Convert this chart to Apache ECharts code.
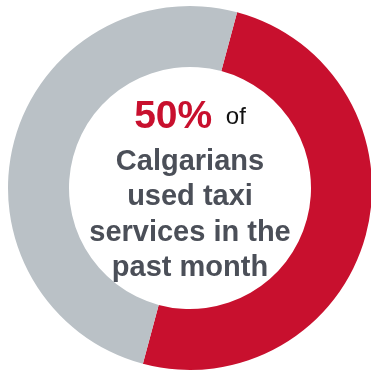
<!DOCTYPE html>
<html>
<head>
<meta charset="utf-8">
<script src="https://cdn.jsdelivr.net/npm/echarts@6/dist/echarts.min.js"></script>
<style>
  html, body { margin: 0; padding: 0; background: #ffffff; }
  #chart { width: 371px; height: 371px; }
</style>
</head>
<body>
<div id="chart"></div>
<script>
// Share of Calgarians who used taxi services in the past month
const categories = ['Used taxi services', 'Did not use taxi services'];
const values = [50, 50];
const colors = ['#C8102E', '#BAC1C6'];

const chart = echarts.init(document.getElementById('chart'), null, { renderer: 'canvas' });

const pieData = categories.map((name, i) => ({
  name: name,
  value: values[i],
  itemStyle: { color: colors[i] },
  label: { show: i === 0 }
}));

const FONT = 'Liberation Sans, Arial, sans-serif';

chart.setOption({
  animation: false,
  series: [{
    type: 'pie',
    center: [190, 188],
    radius: [121, 182],
    startAngle: 75,
    clockwise: true,
    silent: true,
    labelLine: { show: false },
    label: {
      position: 'center',
      fontFamily: FONT,
      formatter: (p) => '{a|' + p.value + '%}{b| of}\n' +
        '{c|Calgarians}\n{c|used taxi}\n{c|services in the}\n{c|past month}',
      rich: {
        a: { fontSize: 39, fontWeight: 'bold', color: '#C8102E', lineHeight: 54, fontFamily: FONT },
        b: { fontSize: 24, color: '#111111', lineHeight: 54, padding: [0, 0, 0, 7], fontFamily: FONT },
        c: { fontSize: 29, fontWeight: 'bold', color: '#4B4F58', lineHeight: 35.5, fontFamily: FONT }
      }
    },
    data: pieData
  }]
});
</script>
</body>
</html>
